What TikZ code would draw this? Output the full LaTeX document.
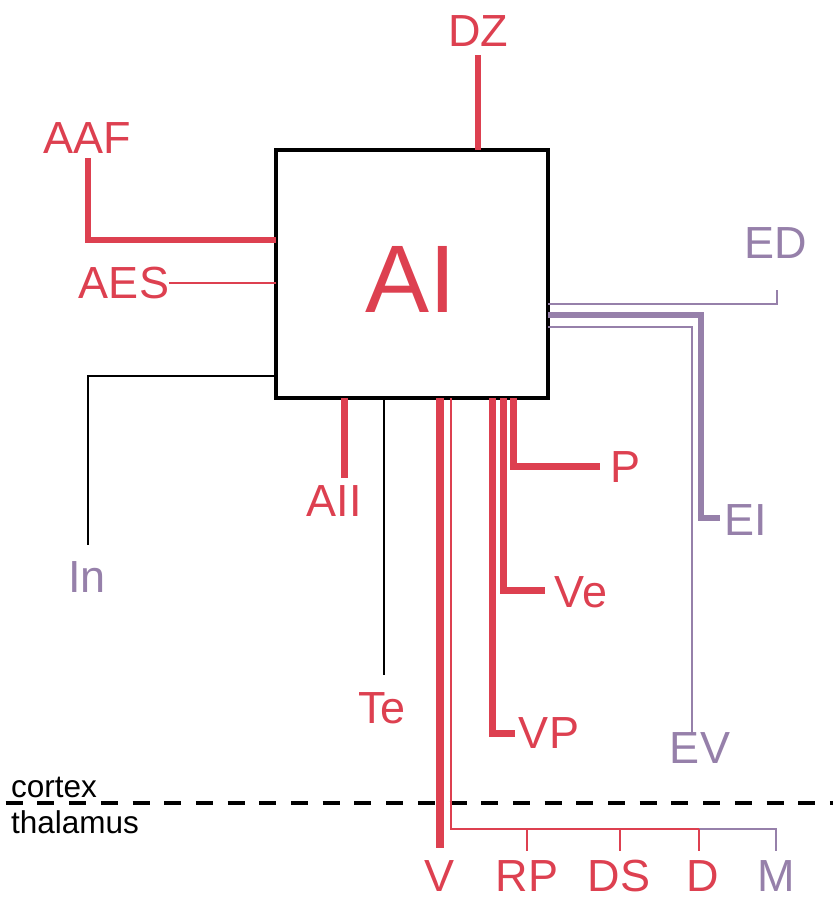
\documentclass[tikz,border=0pt]{standalone}
\usepackage{fontspec}
\setmainfont{Liberation Sans}
\definecolor{ared}{RGB}{221,64,80}
\definecolor{apur}{RGB}{150,128,170}
\begin{document}
\begin{tikzpicture}[x=1pt,y=-1pt,
  lab/.style={inner sep=0pt,font=\fontsize{45}{54}\selectfont},
  redlab/.style={lab,text=ared},
  purlab/.style={lab,text=apur},
  small/.style={inner sep=0pt,anchor=west,font=\fontsize{31.5}{37}\selectfont},
  thickr/.style={draw=ared,line width=7pt},
  thinr/.style={draw=ared,line width=2pt},
  thickp/.style={draw=apur,line width=6pt},
  thinp/.style={draw=apur,line width=2pt},
  thinb/.style={draw=black,line width=2pt}]
\useasboundingbox (0,0) rectangle (833,899);
% labels
\node[redlab] (DZ) at (478,31) {DZ};
\node[redlab] (AAF) at (87,138) {AAF};
\node[redlab] (AES) at (124,283) {AES};
\node[purlab] (ED) at (776,243) {ED};
\node[purlab] (EI) at (746,520) {EI};
\node[purlab] (In) at (87,577) {In};
\node[redlab] (AII) at (334,501) {AII};
\node[redlab] (P) at (625,467) {P};
\node[redlab] (Ve) at (581,592) {Ve};
\node[redlab] (Te) at (382,708) {Te};
\node[redlab] (VP) at (549,733) {VP};
\node[purlab] (EV) at (700,748) {EV};
\node[redlab] (V) at (440,876) {V};
\node[redlab] (RP) at (527,876) {RP};
\node[redlab] (DS) at (619,876) {DS};
\node[redlab] (D) at (703,876) {D};
\node[purlab] (M) at (776,876) {M};
\node[small] (cortex) at (11,787) {cortex};
\node[small] (thal) at (11,822) {thalamus};
% cortex / thalamus border
\coordinate (bl) at (0,803);
\coordinate (br) at (833,803);
\draw[line width=4.5pt,dash pattern=on 17pt off 14.7pt,dash phase=26pt] (bl) -- (br);
% box
\node (AIbox) [draw,line width=4pt,minimum width=272pt,minimum height=248pt,inner sep=0pt,outer sep=0pt] at (412,274) {};
\node[inner sep=0pt,text=ared,font=\fontsize{96}{110}\selectfont] (AI) at (411,279) {AI};
% connectors
\draw[thickr,line width=6pt] (AIbox.north -| 478,0) -- (478,55);
\draw[thickr,line width=6pt] (AIbox.west |- 0,240) -- (88,240) -- (88,158);
\draw[thinr] (AIbox.west |- 0,283) -- (AES.east |- 0,283);
\draw[thinb] (AIbox.west |- 0,376) -- (88,376) -- (88,545);
\draw[thickr] (AIbox.south -| 344,0) -- (344,478);
\draw[thinb] (AIbox.south -| 384,0) -- (384,675);
\draw[thickr,line width=8pt] (AIbox.south -| 440,0) -- (440,848);
\draw[thinr] (AIbox.south -| 451,0) -- (451,829) -- (699,829);
\draw[thinp] (699,829) -- (776,829) -- (776,851);
\draw[thinr] (527,829) -- (527,851);
\draw[thinr] (620,829) -- (620,851);
\draw[thinr] (699,829) -- (699,851);
\draw[thickr] (AIbox.south -| 492,0) -- (492,733) -- (515,733);
\draw[thickr] (AIbox.south -| 503,0) -- (503,590) -- (545,590);
\draw[thickr] (AIbox.south -| 513,0) -- (513,466) -- (600,466);
\draw[thinp] (AIbox.east |- 0,304) -- (777,304) -- (777,290);
\draw[thickp] (AIbox.east |- 0,315) -- (701,315) -- (701,518) -- (720,518);
\draw[thinp] (AIbox.east |- 0,327) -- (692,327) -- (692,735);
\end{tikzpicture}
\end{document}
